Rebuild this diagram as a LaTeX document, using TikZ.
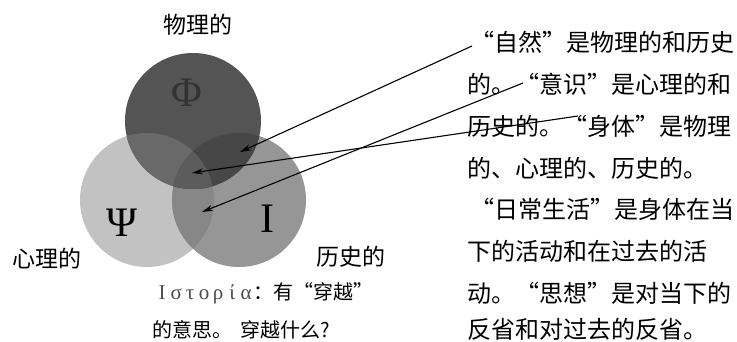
\documentclass[tikz,border=0pt]{standalone}
\usepackage{fontspec}
\newfontfamily\cjk{Noto Sans CJK SC}
\newfontfamily\grk{Liberation Serif}
\usetikzlibrary{arrows.meta}
\definecolor{cPsi}{gray}{0.76}
\definecolor{cI}{gray}{0.59}
\definecolor{cPsiI}{gray}{0.53}
\definecolor{cPhi}{gray}{0.33}
\definecolor{cPhiPsi}{gray}{0.41}
\definecolor{cPhiI}{gray}{0.28}
\definecolor{cAll}{gray}{0.36}
\newcommand{\gl}[1]{\makebox[14pt][c]{#1}}
\begin{document}
\begin{tikzpicture}[x=1pt,y=-1pt,
  row/.style={font=\cjk\fontsize{24}{28}\selectfont, inner sep=0pt},
  lbl/.style={font=\cjk\fontsize{23}{27}\selectfont, inner sep=0pt},
  sym/.style={font=\grk\fontsize{42}{46}\selectfont, inner sep=0pt},
  arr/.style={line width=1.1pt, -{Stealth[length=11pt,width=6pt]}}]
\useasboundingbox (0,0) rectangle (737,342);
\fill[white] (0,0) rectangle (737,342);
% circles
\def\cPsiC{(147,200) circle[radius=67pt]}
\def\cIC{(239,200) circle[radius=67pt]}
\def\cPhiC{(193,121) circle[radius=68pt]}
\fill[cPsi] \cPsiC;
\fill[cI] \cIC;
\begin{scope}
  \clip \cPsiC;
  \fill[cPsiI] \cIC;
\end{scope}
\fill[cPhi] \cPhiC;
\begin{scope}
  \clip \cPhiC;
  \fill[cPhiPsi] \cPsiC;
  \fill[cPhiI] \cIC;
  \clip \cPsiC;
  \fill[cAll] \cIC;
\end{scope}
% symbols
\node[sym, text=black!80] (phi) at (187,93) {Φ};
\node[sym] (psi) at (122,223) {Ψ};
\node[sym] (iota) at (267,219) {I};
% labels
\node[lbl] (phy) at (198,25) {物理的};
\node[lbl] (psy) at (47,259) {心理的};
\node[lbl] (his) at (351,257) {历史的};
% bottom text
\node[anchor=west, inner sep=0pt] (gr) at (155,293)
  {{\grk\fontsize{21}{24}\selectfont\color{black!70}\gl{Ι}\gl{σ}\gl{τ}\gl{ο}\gl{ρ}\gl{ί}\gl{α}}{\cjk\fontsize{20}{24}\selectfont ：有“穿越”}};
\node[anchor=west, inner sep=0pt, font=\cjk\fontsize{20}{24}\selectfont] (gr2) at (152,330)
  {的意思。\hspace{8pt}穿越什么?};
% right text block
\node[row, anchor=east] (r1) at (735,42) {“自然”是物理的和历史};
\node[row, anchor=west] (r2) at (467,84) {的。“意识”是心理的和};
\node[row, anchor=west] (r3) at (467,126) {历史的。“身体”是物理};
\node[row, anchor=west] (r4) at (467,168) {的、心理的、历史的。};
\node[row, anchor=east] (r5) at (735,209) {“日常生活”是身体在当};
\node[row, anchor=west] (r6) at (467,251) {下的活动和在过去的活};
\node[row, anchor=west] (r7) at (467,293) {动。“思想”是对当下的};
\node[row, anchor=west] (r8) at (467,329) {反省和对过去的反省。};
% arrows
\coordinate (s1) at (472,46);
\coordinate (t1) at (240,152);
\coordinate (s2) at (578,116);
\coordinate (t2) at (192,173);
\coordinate (s3) at (523,83);
\coordinate (t3) at (202,212);
\draw[arr] (s1) -- (t1);
\draw[arr] (s2) -- (t2);
\draw[arr] (s3) -- (t3);
\end{tikzpicture}
\end{document}
